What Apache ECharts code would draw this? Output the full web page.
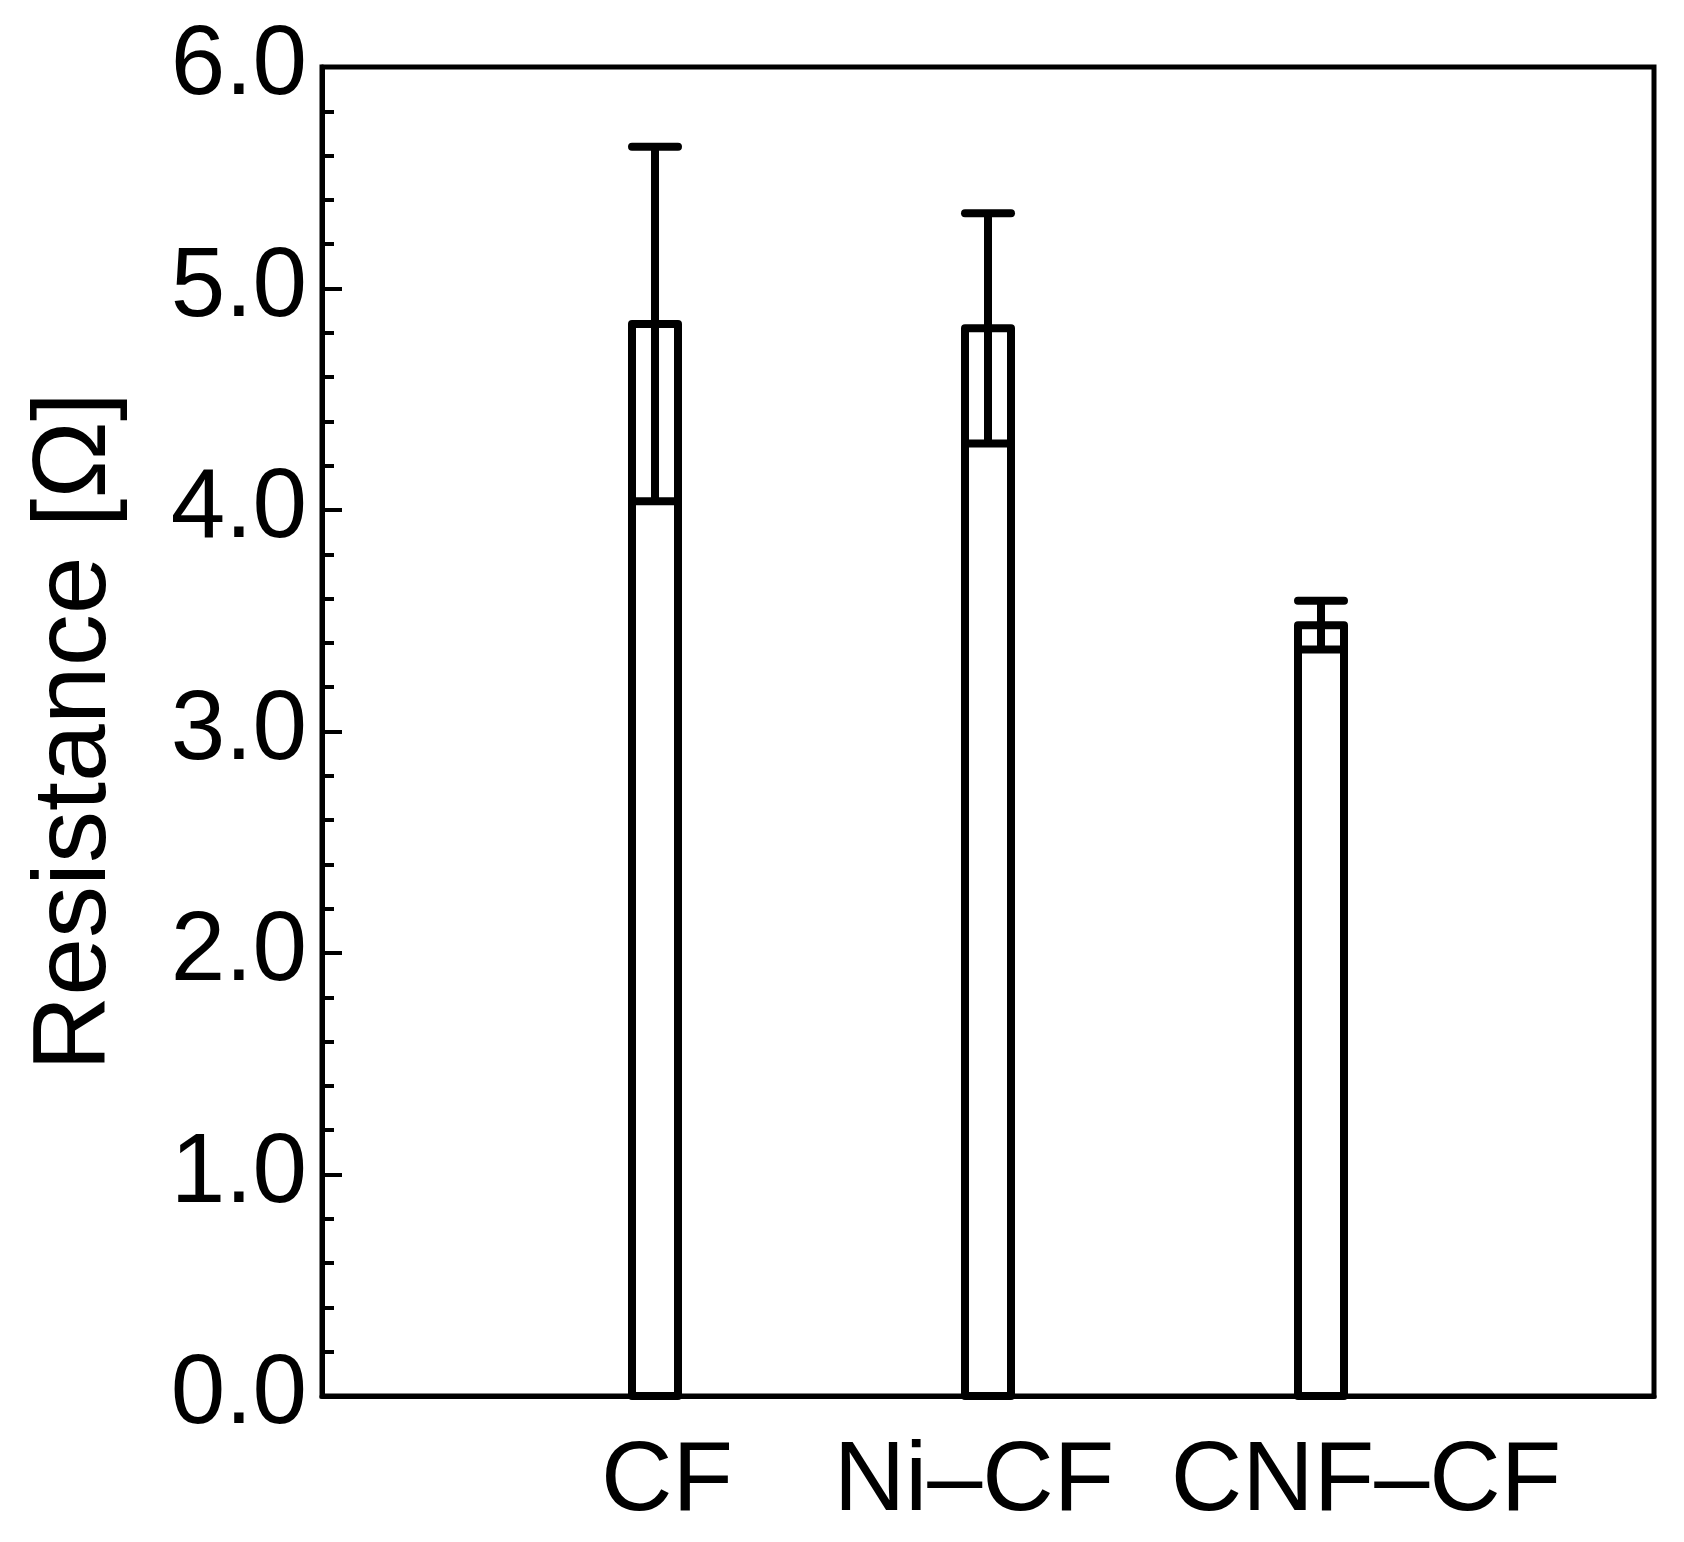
<!DOCTYPE html>
<html>
<head>
<meta charset="utf-8">
<script src="https://cdn.jsdelivr.net/npm/echarts@6/dist/echarts.min.js"></script>
<style>
  html, body { margin: 0; padding: 0; background: #ffffff; }
  #chart { width: 1684px; height: 1542px; }
</style>
</head>
<body>
<div id="chart"></div>
<script>
// ---- data ----
const categories = ['CF', 'Ni\u2013CF', 'CNF\u2013CF'];
const resistance = [4.84, 4.82, 3.48];
const errors = [0.80, 0.52, 0.11];
const yTicks = [0, 1, 2, 3, 4, 5, 6];

// axis categories: blank slots at both ends so the bars sit at 1/4, 2/4, 3/4
const axisCategories = [''].concat(categories).concat(['']);
const seriesData = categories.map((c, i) => [i + 1, resistance[i], errors[i]]);

const FONT = 'Liberation Sans';
const LW = 8;        // bar / error line width
const BAR_W = 46;    // bar width (stroke centred)

// label horizontal nudges (the reference labels are not exactly centred under the bars)
const labelRich = {
  c1: { padding: [0, 0, 0, 24] },
  c2: { padding: [0, 28, 0, 0] },
  c3: { padding: [0, 0, 0, 90] }
};
const labelStyleKeys = { 1: 'c1', 2: 'c2', 3: 'c3' };

const chart = echarts.init(document.getElementById('chart'), null, { renderer: 'canvas' });

chart.setOption({
  backgroundColor: '#ffffff',
  animation: false,
  grid: {
    left: 322, right: 30, top: 67, bottom: 146,
    show: true, borderColor: '#000', borderWidth: 5, backgroundColor: 'transparent'
  },
  xAxis: {
    type: 'category',
    data: axisCategories,
    boundaryGap: false,
    axisLine: { show: true, lineStyle: { color: '#000', width: 5 } },
    axisTick: { show: false },
    splitLine: { show: false },
    axisLabel: {
      show: true, interval: 0, margin: 37,
      color: '#000', fontFamily: FONT, fontSize: 99, lineHeight: 100,
      rich: (function () {
        const r = {};
        Object.keys(labelRich).forEach(k => {
          r[k] = Object.assign({ color: '#000', fontFamily: FONT, fontSize: 99, lineHeight: 100 }, labelRich[k]);
        });
        return r;
      })(),
      formatter: function (value, index) {
        const key = labelStyleKeys[index];
        return key && value ? '{' + key + '|' + value + '}' : value;
      }
    }
  },
  yAxis: {
    type: 'value',
    min: yTicks[0], max: yTicks[yTicks.length - 1], interval: 1,
    name: 'Resistance [\u03A9]',
    nameLocation: 'middle',
    nameRotate: 90,
    nameGap: 194,
    nameTextStyle: { color: '#000', fontFamily: FONT, fontSize: 104 },
    axisLine: { show: true, lineStyle: { color: '#000', width: 5 } },
    axisTick: { show: true, inside: true, length: 20, lineStyle: { color: '#000', width: 4 } },
    minorTick: { show: true, splitNumber: 5, length: 12, lineStyle: { color: '#000', width: 4 } },
    splitLine: { show: false },
    axisLabel: {
      margin: 15, color: '#000', fontFamily: FONT, fontSize: 98,
      formatter: v => v.toFixed(1)
    }
  },
  series: [
    {
      type: 'custom',
      name: 'bars',
      data: seriesData,
      z: 3,
      renderItem: function (params, api) {
        const x = api.value(0);
        const v = api.value(1);
        const top = api.coord([x, v]);
        const base = api.coord([x, 0]);
        return {
          type: 'rect',
          shape: { x: top[0] - BAR_W / 2, y: top[1], width: BAR_W, height: base[1] - top[1] },
          style: { fill: '#ffffff', stroke: '#000', lineWidth: LW, lineJoin: 'round' }
        };
      }
    },
    {
      type: 'custom',
      name: 'errors',
      data: seriesData,
      z: 4,
      renderItem: function (params, api) {
        const x = api.value(0);
        const v = api.value(1);
        const e = api.value(2);
        const hi = api.coord([x, v + e]);
        const lo = api.coord([x, v - e]);
        const half = BAR_W / 2;
        return {
          type: 'group',
          children: [
            { type: 'line', shape: { x1: hi[0], y1: hi[1], x2: lo[0], y2: lo[1] }, style: { stroke: '#000', lineWidth: LW, lineCap: 'butt' } },
            { type: 'line', shape: { x1: hi[0] - half, y1: hi[1], x2: hi[0] + half, y2: hi[1] }, style: { stroke: '#000', lineWidth: LW, lineCap: 'round' } },
            { type: 'line', shape: { x1: lo[0] - half, y1: lo[1], x2: lo[0] + half, y2: lo[1] }, style: { stroke: '#000', lineWidth: LW, lineCap: 'butt' } }
          ]
        };
      }
    }
  ]
});
</script>
</body>
</html>
